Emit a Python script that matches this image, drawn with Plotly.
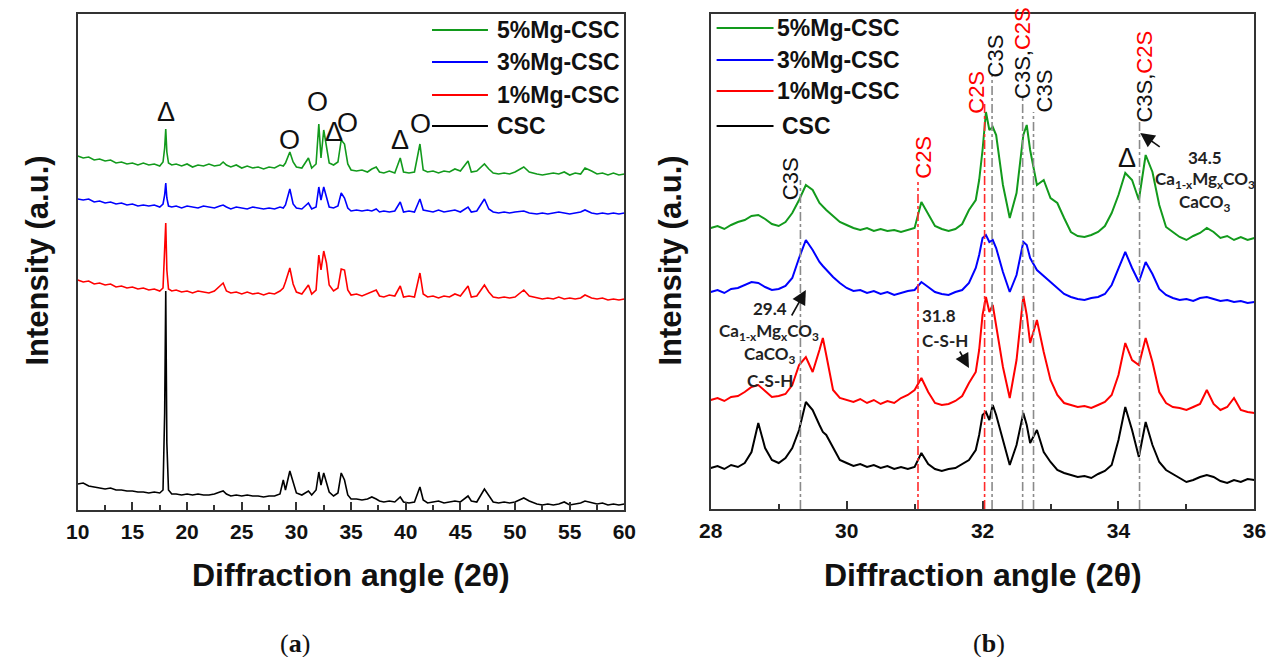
import plotly.graph_objects as go

W, H = 1287, 657

# ---------------- data : panel (a) ----------------
two_theta_a = [10, 10.5, 11, 11.5, 12, 12.5, 13, 13.5, 14, 14.5,
               15, 15.5, 16, 16.5, 17, 17.5, 17.8, 17.95, 18.05, 18.15,
               18.3, 18.6, 19, 19.5, 20, 20.5, 21, 21.5, 22, 22.5,
               23, 23.3, 23.6, 24, 24.5, 25, 25.5, 26, 26.5, 27,
               27.5, 28, 28.5, 28.8, 29.0, 29.4, 29.7, 30.0, 30.5, 31.1,
               31.4, 31.8, 32.05, 32.25, 32.5, 32.75, 33.0, 33.4, 33.8, 34.1,
               34.4, 34.7, 35.0, 35.5, 36.0, 36.5, 36.9, 37.3, 37.6, 38.0,
               38.5, 39.0, 39.5, 39.8, 40.3, 40.8, 41.3, 41.6, 42.0, 42.5,
               43.0, 43.5, 44.0, 44.5, 45.0, 45.7, 46.0, 46.5, 47.2, 47.6,
               48.0, 48.5, 49.0, 49.5, 50.0, 50.8, 51.3, 52.0, 52.5, 53.0,
               53.5, 54.0, 54.5, 55.0, 55.5, 56.0, 56.4, 57.0, 57.5, 58.0,
               58.5, 59.0, 59.5, 60.0]

mg5_a = [354, 352, 353, 350, 351, 349, 350, 347, 348, 346,
         347, 345, 347, 345, 346, 344, 348, 362, 381, 358,
         347, 345, 346, 344, 346, 343, 345, 344, 346, 344,
         345, 348, 345, 343, 345, 342, 344, 342, 343, 341,
         343, 342, 345, 344, 347, 358, 348, 343, 342, 352,
         342, 346, 386, 352, 380, 362, 347, 345, 348, 370,
         366, 346, 340, 339, 340, 338, 341, 343, 338, 337,
         339, 337, 352, 338, 337, 338, 366, 340, 338, 339,
         337, 339, 338, 341, 339, 349, 338, 339, 346, 341,
         337, 336, 337, 336, 338, 343, 338, 336, 335, 336,
         337, 336, 338, 335, 337, 336, 342, 339, 336, 337,
         335, 337, 335, 336]

mg3_a = [311, 310, 311, 308, 309, 307, 308, 306, 307, 305,
         306, 304, 305, 304, 305, 303, 306, 315, 327, 312,
         304, 303, 304, 302, 304, 303, 302, 304, 303, 302,
         304, 305, 303, 301, 303, 302, 301, 303, 302, 301,
         302, 301, 303, 302, 305, 321, 306, 302, 301, 307,
         301, 303, 323, 310, 323, 313, 303, 302, 304, 317,
         312, 302, 299, 300, 299, 300, 299, 301, 298, 299,
         298, 299, 308, 298, 299, 298, 311, 300, 299, 298,
         300, 298, 299, 300, 298, 303, 298, 299, 311, 301,
         298, 297, 298, 297, 298, 299, 297, 296, 297, 296,
         297, 298, 297, 296, 297, 298, 300, 297, 296, 297,
         296, 297, 296, 297]

mg1_a = [230, 228, 229, 226, 227, 225, 226, 223, 224, 222,
         223, 221, 222, 220, 221, 219, 222, 255, 287, 240,
         221, 219, 220, 218, 219, 217, 219, 218, 217, 219,
         224, 227, 219, 217, 218, 216, 218, 216, 217, 215,
         217, 216, 219, 222, 228, 242, 226, 218, 216, 225,
         216, 220, 255, 240, 259, 247, 225, 219, 222, 241,
         240, 220, 215, 216, 214, 216, 218, 220, 214, 213,
         215, 214, 224, 213, 214, 213, 237, 216, 213, 214,
         212, 214, 213, 216, 214, 224, 213, 214, 225, 218,
         213, 212, 213, 212, 213, 220, 214, 212, 211, 212,
         211, 213, 211, 212, 211, 212, 215, 212, 211, 212,
         210, 211, 210, 211]

csc_a = [26, 27, 24, 23, 22, 21, 22, 20, 20, 19,
         19, 18, 18, 17, 18, 17, 20, 97, 219, 67,
         20, 16, 16, 15, 16, 15, 16, 15, 15, 16,
         18, 19, 16, 14, 15, 14, 15, 14, 14, 13,
         14, 14, 16, 30, 20, 39, 28, 17, 15, 19,
         15, 20, 38, 25, 37, 28, 18, 14, 17, 37,
         30, 15, 11, 11, 10, 11, 13, 11, 9, 8,
         9, 8, 13, 8, 7, 8, 23, 10, 7, 8,
         9, 7, 8, 9, 8, 14, 9, 8, 21, 14,
         8, 7, 8, 7, 8, 12, 9, 6, 5, 6,
         5, 6, 8, 5, 6, 7, 9, 7, 6, 7,
         5, 6, 5, 6]

# ---------------- data : panel (b) ----------------
two_theta_b = [28.0, 28.1, 28.2, 28.3, 28.4, 28.5, 28.6, 28.7, 28.8, 28.9,
               29.0, 29.1, 29.2, 29.3, 29.4, 29.5, 29.6, 29.65, 29.7, 29.8,
               29.9, 30.0, 30.1, 30.2, 30.3, 30.4, 30.5, 30.6, 30.7, 30.8,
               30.9, 31.0, 31.1, 31.2, 31.3, 31.4, 31.5, 31.6, 31.7, 31.8,
               31.9, 31.95, 32.0, 32.05, 32.1, 32.15, 32.2, 32.3, 32.4, 32.5,
               32.6, 32.65, 32.7, 32.8, 32.9, 33.0, 33.1, 33.2, 33.3, 33.4,
               33.5, 33.6, 33.7, 33.8, 33.9, 34.0, 34.1, 34.2, 34.3, 34.4,
               34.5, 34.6, 34.7, 34.8, 34.9, 35.0, 35.1, 35.2, 35.3, 35.4,
               35.5, 35.6, 35.7, 35.8, 35.9, 36.0]

mg5_b = [281, 283, 280, 284, 287, 289, 293, 294, 290, 285,
         283, 287, 296, 309, 324, 319, 306, 302, 299, 293,
         287, 284, 281, 279, 281, 278, 280, 278, 279, 277,
         279, 281, 307, 295, 283, 280, 278, 280, 285, 299,
         309, 329, 359, 397, 379, 382, 374, 324, 291, 316,
         374, 384, 359, 324, 329, 311, 306, 291, 277, 273,
         272, 274, 277, 283, 296, 314, 336, 329, 309, 354,
         337, 304, 282, 277, 272, 269, 273, 276, 281, 277,
         271, 273, 269, 272, 269, 271]

mg3_b = [217, 219, 216, 220, 221, 224, 227, 226, 222, 219,
         220, 223, 231, 251, 269, 259, 247, 243, 239, 232,
         226, 221, 218, 219, 216, 218, 215, 217, 214, 216,
         218, 219, 227, 222, 217, 215, 214, 217, 219, 226,
         241, 254, 271, 274, 267, 269, 261, 237, 217, 234,
         267, 264, 251, 239, 233, 227, 221, 215, 212, 210,
         209, 211, 212, 215, 224, 241, 257, 241, 227, 247,
         235, 220, 214, 211, 209, 210, 208, 211, 212, 210,
         208, 209, 207, 208, 206, 207]

mg1_b = [109, 111, 108, 112, 113, 117, 122, 124, 118, 112,
         113, 115, 124, 144, 152, 137, 159, 171, 154, 119,
         111, 109, 107, 110, 106, 109, 105, 108, 106, 111,
         114, 119, 131, 117, 106, 104, 105, 108, 113, 126,
         137, 159, 194, 212, 197, 204, 184, 142, 111, 149,
         213, 194, 166, 189, 157, 129, 114, 106, 104, 102,
         103, 101, 104, 107, 114, 134, 166, 149, 144, 171,
         147, 117, 106, 102, 101, 99, 102, 105, 119, 105,
         99, 102, 111, 99, 97, 96]

csc_b = [41, 43, 40, 44, 42, 46, 57, 86, 61, 49,
         46, 51, 61, 79, 107, 99, 84, 77, 74, 61,
         49, 46, 43, 45, 42, 44, 41, 43, 40, 42,
         40, 42, 56, 45, 40, 38, 40, 41, 45, 49,
         59, 74, 94, 97, 89, 104, 94, 69, 44, 64,
         96, 84, 66, 79, 57, 47, 39, 36, 34, 32,
         33, 31, 35, 38, 44, 69, 102, 79, 52, 87,
         64, 47, 39, 35, 31, 27, 29, 32, 34, 32,
         28, 26, 29, 27, 30, 29]

series_names = ["CSC", "1%Mg-CSC", "3%Mg-CSC", "5%Mg-CSC"]
series_colors = ["#000000", "#ff0000", "#0000ff", "#129a1c"]

ticks_a = [10, 15, 20, 25, 30, 35, 40, 45, 50, 55, 60]
ticks_b = [28, 30, 32, 34, 36]

# phase marker symbols in panel (a)
sym_text = ["Δ", "O", "O", "Δ", "O", "Δ", "O"]
sym_x = [18.06, 29.41, 31.9, 33.44, 34.65, 39.49, 41.32]
sym_y = [398, 370, 408, 378, 387, 370, 386]

# reference lines in panel (b)
ref_pos = [29.32, 31.05, 32.03, 32.14, 32.59, 32.75, 34.31]
ref_top = [329, 327, 406, 434, 412, 397, 391]
ref_col = ["#8a8a8a", "#ff2a2a", "#ff2a2a", "#8a8a8a", "#8a8a8a", "#8a8a8a", "#8a8a8a"]

# phase labels in panel (b)
phase_text = ["C3S", "C2S", "C2S", "C3S",
              "C3S,<span style='color:#ff0000'>C2S</span>", "C3S",
              "C3S,<span style='color:#ff0000'>C2S</span>"]
phase_col = ["#111111", "#ff0000", "#ff0000", "#111111", "#111111", "#111111", "#111111"]
phase_x = [29.17, 31.12, 31.90, 32.19, 32.58, 32.91, 34.37]
phase_y = [330, 352, 417, 453, 456, 418, 432]

# ---------------- layout helpers ----------------
SANS = "Liberation Sans, Arial, sans-serif"
NOTE = "Lato, Carlito, Calibri, sans-serif"
SERIF = "Liberation Serif, Times New Roman, serif"
FRAME = "#333333"

A_L, A_R, A_T, A_B = 67, 624, 14, 510
B_L, B_R, B_T, B_B = 712, 1266, 14, 509


def PX(p):
    return p / W


def PY(p):
    return 1 - p / H


fig = go.Figure()

data_a = [csc_a, mg1_a, mg3_a, mg5_a]
data_b = [csc_b, mg1_b, mg3_b, mg5_b]
for name, ya, col in zip(series_names, data_a, series_colors):
    fig.add_trace(go.Scatter(x=two_theta_a, y=ya, mode="lines", name=name,
                             line=dict(color=col, width=1.6), xaxis="x", yaxis="y",
                             showlegend=False))
for name, yb, col in zip(series_names, data_b, series_colors):
    fig.add_trace(go.Scatter(x=two_theta_b, y=yb, mode="lines", name=name,
                             line=dict(color=col, width=2), xaxis="x2", yaxis="y2",
                             showlegend=False))


def xaxis_cfg(dom, rng, tv, minor_dt, anchor):
    return dict(domain=dom, range=rng, anchor=anchor, tickmode="array", tickvals=tv,
                ticks="inside", ticklen=8, tickwidth=1.5, tickcolor=FRAME,
                minor=dict(dtick=minor_dt, tick0=rng[0], ticks="inside", ticklen=5,
                           tickwidth=1.5, tickcolor=FRAME),
                showline=True, linecolor=FRAME, linewidth=1.6, mirror=True,
                showgrid=False, zeroline=False, ticklabelstandoff=2,
                tickfont=dict(family=SANS, size=21, color="#111", weight="bold"))


def yaxis_cfg(dom, rng, anchor):
    return dict(domain=dom, range=rng, anchor=anchor, showticklabels=False, ticks="",
                showline=True, linecolor=FRAME, linewidth=1.6, mirror=True,
                showgrid=False, zeroline=False)


fig.update_layout(
    width=W, height=H, margin=dict(l=0, r=0, t=0, b=0),
    paper_bgcolor="white", plot_bgcolor="white",
    xaxis=xaxis_cfg([PX(A_L), PX(A_R)], [10, 60], ticks_a, 2.5, "y"),
    yaxis=yaxis_cfg([PY(A_B), PY(A_T)], [0, A_B - A_T], "x"),
    xaxis2=xaxis_cfg([PX(B_L), PX(B_R)], [28, 36], ticks_b, 1, "y2"),
    yaxis2=yaxis_cfg([PY(B_B), PY(B_T)], [0, B_B - B_T], "x2"),
)

shapes = []
ann = []

# reference dash-dot lines (panel b)
for xp, top, col in zip(ref_pos, ref_top, ref_col):
    shapes.append(dict(type="line", xref="x2", yref="y2", x0=xp, x1=xp, y0=0, y1=top,
                       line=dict(color=col, width=1.6, dash="dashdot")))

# phase labels (panel b)
for t, c, xp, yp in zip(phase_text, phase_col, phase_x, phase_y):
    ann.append(dict(x=xp, y=yp, xref="x2", yref="y2", text=t, showarrow=False,
                    textangle=-90, xanchor="center", yanchor="middle",
                    font=dict(family=SANS, size=22, color=c)))

# symbols (panel a)
sym_font = dict(family=SANS, size=27, color="#111")
for t, xp, yp in zip(sym_text, sym_x, sym_y):
    ann.append(dict(x=xp, y=yp, xref="x", yref="y", text=t, showarrow=False,
                    xanchor="center", yanchor="middle", font=sym_font))
ann.append(dict(x=34.13, y=351, xref="x2", yref="y2", text="Δ", showarrow=False,
                xanchor="center", yanchor="middle", font=sym_font))

# notes with arrows (panel b)
note_font = dict(family=NOTE, size=17, color="#222", weight="bold")
notes = [
    (35.27, 352, "34.5"),
    (35.27, 329, "Ca<sub>1-x</sub>Mg<sub>x</sub>CO<sub>3</sub>"),
    (35.27, 306, "CaCO<sub>3</sub>"),
    (28.87, 201, "29.4"),
    (28.86, 177, "Ca<sub>1-x</sub>Mg<sub>x</sub>CO<sub>3</sub>"),
    (28.87, 154, "CaCO<sub>3</sub>"),
    (28.87, 129, "C-S-H"),
    (31.36, 194, "31.8"),
    (31.44, 169, "C-S-H"),
]
for xp, yp, t in notes:
    ann.append(dict(x=xp, y=yp, xref="x2", yref="y2", text=t, showarrow=False,
                    xanchor="center", yanchor="middle", font=note_font))

for hx, hy, axp, ayp in [(34.32, 376, 21, 15), (29.40, 219, -15, 27), (31.80, 141, -10, -18)]:
    ann.append(dict(x=hx, y=hy, xref="x2", yref="y2", text="", showarrow=True,
                    ax=axp, ay=ayp, arrowhead=2, arrowsize=1.8, arrowwidth=1.6,
                    arrowcolor="#111", standoff=0))

# manual legends
leg_order = [3, 2, 1, 0]
leg_a_y = [30, 62, 95, 126]
leg_b_y = [28, 60, 91, 126]
for k, yy in zip(leg_order, leg_a_y):
    shapes.append(dict(type="line", xref="paper", yref="paper", x0=PX(428), x1=PX(485),
                       y0=PY(yy), y1=PY(yy), line=dict(color=series_colors[k], width=2)))
    ann.append(dict(x=PX(492), y=PY(yy), xref="paper", yref="paper",
                    text=series_names[k], showarrow=False, xanchor="left", yanchor="middle",
                    font=dict(family=SANS, size=23, color="#111", weight="bold")))
for k, yy in zip(leg_order, leg_b_y):
    shapes.append(dict(type="line", xref="paper", yref="paper", x0=PX(718), x1=PX(776),
                       y0=PY(yy), y1=PY(yy), line=dict(color=series_colors[k], width=2.2)))
    ann.append(dict(x=PX(777 if k else 783), y=PY(yy), xref="paper", yref="paper",
                    text=series_names[k], showarrow=False, xanchor="left", yanchor="middle",
                    font=dict(family=SANS, size=23, color="#111", weight="bold")))

# axis titles and captions
title_font = dict(family=SANS, size=32, color="#111", weight="bold")
for cx in [(A_L + A_R) / 2, (B_L + B_R) / 2]:
    ann.append(dict(x=PX(cx), y=PY(575), xref="paper", yref="paper",
                    text="Diffraction angle (2θ)", showarrow=False,
                    xanchor="center", yanchor="middle", font=title_font))
for cx in [25, 670]:
    ann.append(dict(x=PX(cx), y=PY(261), xref="paper", yref="paper",
                    text="Intensity (a.u.)", showarrow=False, textangle=-90,
                    xanchor="center", yanchor="middle",
                    font=dict(family=SANS, size=31, color="#111", weight="bold")))
for cx, t in [(288, "(<b>a</b>)"), (996, "(<b>b</b>)")]:
    ann.append(dict(x=PX(cx), y=PY(643), xref="paper", yref="paper", text=t,
                    showarrow=False, xanchor="center", yanchor="middle",
                    font=dict(family=SERIF, size=26, color="#111")))

fig.update_layout(shapes=shapes, annotations=ann)
fig.write_html("out.html")
